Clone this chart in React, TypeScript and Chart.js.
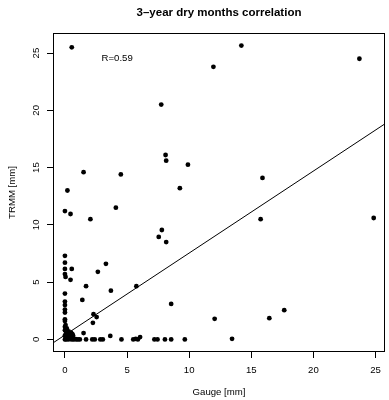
import React, { useEffect, useRef } from "react";
import { Chart, registerables } from "chart.js";

Chart.register(...registerables);

const TITLE = "3\u2013year dry months correlation";
const X_LABEL = "Gauge [mm]";
const Y_LABEL = "TRMM [mm]";
const R_TEXT = "R=0.59";
const R_TEXT_POS = [4.2, 24.5];

const xTicks = [0, 5, 10, 15, 20, 25];
const yTicks = [0, 5, 10, 15, 20, 25];
const X_RANGE = [-0.96, 25.76];
const Y_RANGE = [-1.1, 26.75];

const FIT_INTERCEPT = 0.38;
const FIT_SLOPE = 0.716;

// Gauge (x) and TRMM (y) values
const gauge = [
  0.55, 14.2, 23.7, 11.95, 7.75, 8.1, 8.15, 9.9, 1.5, 4.5, 15.9, 9.25, 0.2,
  0.0, 0.45, 4.1, 2.05, 15.75, 24.85, 7.8, 7.55, 8.15,
  0.0, 0.0, 0.0, 0.55, 0.0, 0.05, 0.45, 3.3, 2.65, 1.7, 5.75, 3.7, 0.0, 1.4, 8.55,
  0.0, 0.0, 0.0, 0.0, 2.3, 2.55, 2.25, 12.05, 16.45, 17.65, 0.0, 0.0, 1.5, 3.65, 6.05, 13.45,
  1.7, 2.2, 2.4, 2.85, 3.05, 4.55, 5.5, 5.7, 5.87, 7.2, 7.45, 8.05, 8.55, 9.65,
  0.0, 0.05, 0.1, 0.15, 0.2, 0.25, 0.3, 0.35, 0.4, 0.45, 0.5, 0.55, 0.6, 0.65, 0.7,
  0.8, 0.9, 1.05, 1.2, 0.1, 0.3, 0.5, 0.0, 0.15, 0.0, 0.05, 0.2, 0.4, 0.6, 0.0,
];
const trmm = [
  25.5, 25.65, 24.5, 23.8, 20.5, 16.1, 15.6, 15.25, 14.6, 14.4, 14.1, 13.2, 13.0,
  11.2, 10.95, 11.5, 10.5, 10.5, 10.6, 9.55, 8.95, 8.5,
  7.3, 6.7, 6.15, 6.15, 5.7, 5.45, 5.2, 6.6, 5.9, 4.65, 4.65, 4.25, 4.0, 3.45, 3.1,
  3.3, 3.0, 2.6, 2.35, 2.2, 1.95, 1.45, 1.8, 1.85, 2.55, 1.75, 1.6, 0.55, 0.3, 0.2, 0.05,
  0.0, 0.0, 0.0, 0.0, 0.0, 0.0, 0.0, 0.05, 0.0, 0.0, 0.0, 0.0, 0.0, 0.0,
  0.0, 0.1, 0.0, 0.25, 0.05, 0.4, 0.0, 0.15, 0.3, 0.05, 0.2, 0.0, 0.1, 0.35, 0.0,
  0.05, 0.0, 0.0, 0.0, 0.55, 0.7, 0.6, 0.8, 0.95, 1.1, 1.25, 0.45, 0.5, 0.45, 0.35,
];

const FONT = "'Liberation Sans', Arial, Helvetica, sans-serif";

export default function App() {
  const ref = useRef<HTMLCanvasElement | null>(null);

  useEffect(() => {
    document.body.style.margin = "0";
    const canvas = ref.current;
    if (!canvas) return;

    const points = gauge.map((x, i) => ({ x, y: trmm[i] }));
    const fitLine = [X_RANGE[0], X_RANGE[1]].map((x) => ({ x, y: FIT_INTERCEPT + FIT_SLOPE * x }));

    const decor = {
      id: "decor",
      afterDraw(chart: any) {
        const { ctx, chartArea } = chart;
        const xs = chart.scales.x;
        const ys = chart.scales.y;
        ctx.save();
        ctx.strokeStyle = "#000";
        ctx.lineWidth = 1;
        ctx.strokeRect(
          Math.round(chartArea.left) + 0.5,
          Math.round(chartArea.top) + 0.5,
          Math.round(chartArea.right - chartArea.left) - 1,
          Math.round(chartArea.bottom - chartArea.top) - 1
        );
        ctx.fillStyle = "#000";
        ctx.textAlign = "center";
        ctx.textBaseline = "middle";
        ctx.font = `bold 11.5px ${FONT}`;
        ctx.fillText(TITLE, (chartArea.left + chartArea.right) / 2, 13);
        ctx.font = `9.6px ${FONT}`;
        ctx.fillText(R_TEXT, xs.getPixelForValue(R_TEXT_POS[0]), ys.getPixelForValue(R_TEXT_POS[1]));
        ctx.restore();
      },
    };

    const chart = new Chart(canvas, {
      type: "scatter",
      data: {
        datasets: [
          {
            type: "scatter",
            data: points,
            backgroundColor: "#000",
            borderColor: "#000",
            pointRadius: 2.4,
            pointBorderWidth: 0,
            order: 1,
          },
          {
            type: "line",
            data: fitLine,
            borderColor: "#000",
            borderWidth: 1,
            pointRadius: 0,
            fill: false,
            order: 2,
          } as any,
        ],
      },
      options: {
        responsive: false,
        animation: false,
        clip: 0 as any,
        layout: { padding: { left: 0, right: 2, top: 33, bottom: 0 } },
        plugins: {
          legend: { display: false },
          tooltip: { enabled: false },
          title: { display: false },
        },
        scales: {
          x: {
            type: "linear",
            position: "bottom",
            min: X_RANGE[0],
            max: X_RANGE[1],
            afterBuildTicks: (s: any) => {
              s.ticks = xTicks.map((v) => ({ value: v }));
            },
            afterFit: (s: any) => {
              s.height = 48;
            },
            grid: { display: true, drawOnChartArea: false, drawTicks: true, tickLength: 6, color: "#000" },
            border: { display: false },
            ticks: {
              color: "#000",
              font: { family: FONT, size: 9.6 },
              padding: 7,
              maxRotation: 0,
              autoSkip: false,
            },
            title: {
              display: true,
              text: X_LABEL,
              color: "#000",
              font: { family: FONT, size: 9.6 },
              padding: 2,
            },
          },
          y: {
            type: "linear",
            position: "left",
            min: Y_RANGE[0],
            max: Y_RANGE[1],
            afterBuildTicks: (s: any) => {
              s.ticks = yTicks.map((v) => ({ value: v }));
            },
            afterFit: (s: any) => {
              s.width = 53;
            },
            grid: { display: true, drawOnChartArea: false, drawTicks: true, tickLength: 6, color: "#000" },
            border: { display: false },
            ticks: {
              color: "#000",
              font: { family: FONT, size: 9.6 },
              padding: 5,
              minRotation: 90,
              maxRotation: 90,
              crossAlign: "center",
              autoSkip: false,
            },
            title: {
              display: true,
              text: Y_LABEL,
              color: "#000",
              font: { family: FONT, size: 9.6 },
              padding: 7,
            },
          },
        },
      },
      plugins: [decor],
    });

    return () => chart.destroy();
  }, []);

  return <canvas ref={ref} width={389} height={400} />;
}
